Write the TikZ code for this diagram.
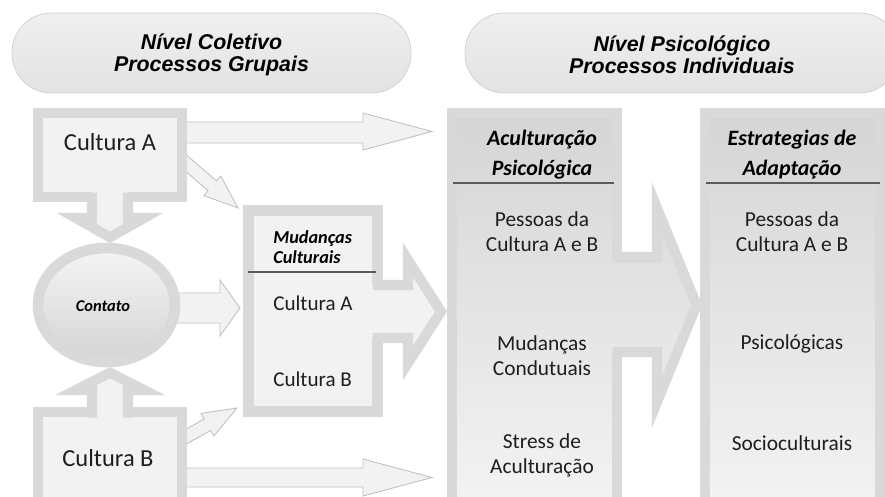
\documentclass[tikz,border=0pt]{standalone}
\usepackage{fontspec}
\setmainfont{Carlito}
\newfontfamily\arialfont{Liberation Sans}
\definecolor{boxgray}{HTML}{D9D9D9}
\definecolor{boxfill}{HTML}{F2F2F2}
\definecolor{thinline}{HTML}{BFBFBF}
\definecolor{coltop}{HTML}{D5D5D5}
\definecolor{colbot}{HTML}{F4F4F4}
\definecolor{ovalline}{HTML}{D0D0D0}
\definecolor{ovaltop}{HTML}{EFEFEF}
\definecolor{ovalbot}{HTML}{E3E3E3}
\definecolor{txt}{HTML}{1E1E1E}
\definecolor{rulegray}{HTML}{5A5A5A}
\tikzset{
  grayframe/.style={draw=boxgray, line width=7.2pt, fill=boxfill},
  thickedge/.style={draw=boxgray, line width=7.2pt},
  thinarrow/.style={draw=thinline, line width=0.6pt, fill=boxfill},
  colframe/.style={draw=boxgray, line width=7.2pt, top color=coltop, bottom color=colbot},
  ovalshape/.style={draw=ovalline, line width=0.5pt, top color=ovaltop, bottom color=ovalbot, rounded corners=28pt},
  ovaltext/.style={font=\arialfont\bfseries\itshape\fontsize{15.2}{15.6}\selectfont, align=center, text=black},
  bigtext/.style={font=\fontsize{17.4}{20}\selectfont},
  midtext/.style={font=\fontsize{15}{18}\selectfont},
  smallhead/.style={font=\bfseries\itshape\fontsize{13}{14.2}\selectfont, align=left, text=black},
  colhead/.style={font=\bfseries\itshape\fontsize{15.6}{21.3}\selectfont, align=center, text=black},
  coltext/.style={font=\fontsize{15.2}{17.6}\selectfont, align=center}
}
\begin{document}
\begin{tikzpicture}[x=0.025cm, y=-0.025cm, text=txt, inner sep=0pt]
	\useasboundingbox (0,0) rectangle (885,496);
	\clip (0,0) rectangle (885,496);
	% niveis
	\draw[ovalshape] (12,13) rectangle (411,93);
	\draw[ovalshape] (465,13) rectangle (899,93);
	\node[ovaltext] (nivcol) at (211.5,54.5) {Nível Coletivo\\Processos Grupais};
	\node[ovaltext] (nivpsi) at (682,54.5) {Nível Psicológico\\Processos Individuais};
	% setas finas
	\draw[thinarrow] (180,122) -- (363,122) -- (363,113) -- (432,131.5) -- (363,150) -- (363,143) -- (180,143) -- cycle;
	\draw[thinarrow] (180,468) -- (363,468) -- (363,459) -- (432,477.5) -- (363,496) -- (363,487) -- (180,487) -- cycle;
	\draw[thinarrow] (160,293) -- (220,293) -- (220,280) -- (240,308) -- (220,336) -- (220,323) -- (160,323) -- cycle;
	\draw[thinarrow] (179.4,148.9) -- (216.5,180.9) -- (220.8,176.0) -- (238,208) -- (203.8,195.6) -- (208.1,190.7) -- (171.0,158.7) -- cycle;
	\draw[thinarrow] (168.5,439.1) -- (204.2,419.0) -- (201.0,413.4) -- (237,408) -- (213.8,436.0) -- (210.6,430.4) -- (174.9,450.5) -- cycle;
	% culturas
	\draw[grayframe] (38,113) rectangle (182,197);
	\draw[grayframe] (38,412) rectangle (182,520);
	\draw[grayframe] (248.5,210.5) rectangle (377.5,411.5);
	\fill[boxfill] (92,188) -- (92,218) -- (76,218) -- (110,237.3) -- (144,218) -- (128,218) -- (128,188) -- cycle;
	\draw[thickedge] (92,192.5) -- (92,218) -- (76,218) -- (110,237.3) -- (144,218) -- (128,218) -- (128,192.5);
	\fill[boxfill] (92,422) -- (92,390) -- (76,390) -- (110,372.7) -- (144,390) -- (128,390) -- (128,422) -- cycle;
	\draw[thickedge] (92,417.5) -- (92,390) -- (76,390) -- (110,372.7) -- (144,390) -- (128,390) -- (128,417.5);
	\draw[draw=boxgray, line width=7.6pt, top color=white!96!black, bottom color=black!17] (106.5,305) ellipse (68.5 and 57);
	\node[bigtext] (cula) at (110,142) {Cultura A};
	\node[bigtext] (culb) at (108,458) {Cultura B};
	\node[font=\bfseries\itshape\fontsize{11.7}{14}\selectfont, text=black] (contato) at (103,306) {Contato};
	\node[smallhead, anchor=west] (mudc) at (273,247) {Mudanças\\Culturais};
	\draw[rulegray, line width=1pt] (248,272) -- (376,272);
	\node[midtext, anchor=west] (mca) at (273,303) {Cultura A};
	\node[midtext, anchor=west] (mcb) at (273,379) {Cultura B};
	\fill[boxfill] (368,285) -- (408,285) -- (408,260) -- (441,311.5) -- (408,363) -- (408,338) -- (368,338) -- cycle;
	\draw[thickedge] (372.5,285) -- (408,285) -- (408,260) -- (441,311.5) -- (408,363) -- (408,338) -- (372.5,338);
	% colunas
	\draw[colframe] (452,113) rectangle (617,520);
	\begin{scope}
		\clip (610,257) -- (657,257) -- (657,208) -- (696.6,305) -- (657,402) -- (657,352) -- (610,352) -- cycle;
		\shade[top color=coltop, bottom color=colbot] (452,113) rectangle (885,520);
	\end{scope}
	\draw[thickedge] (612.5,257) -- (657,257) -- (657,208) -- (696.6,305) -- (657,402) -- (657,352) -- (612.5,352);
	\draw[colframe] (705,113) rectangle (880,520);
	\draw[rulegray, line width=1.2pt] (453,183) -- (614,183) (706,183) -- (880,183);
	\node[colhead] (acult) at (542,155) {Aculturação\\Psicológica};
	\node[coltext] (pessa) at (542,232) {Pessoas da\\Cultura A e B};
	\node[coltext] (mudcond) at (542,356) {Mudanças\\Condutuais};
	\node[coltext] (stress) at (542,455.5) {Stress de\\Aculturação};
	\node[colhead] (estrat) at (792,155) {Estrategias de\\Adaptação};
	\node[coltext] (pessb) at (792,232) {Pessoas da\\Cultura A e B};
	\node[coltext] (psico) at (792,344) {Psicológicas};
	\node[coltext] (socio) at (792,443) {Socioculturais};
\end{tikzpicture}
\end{document}
